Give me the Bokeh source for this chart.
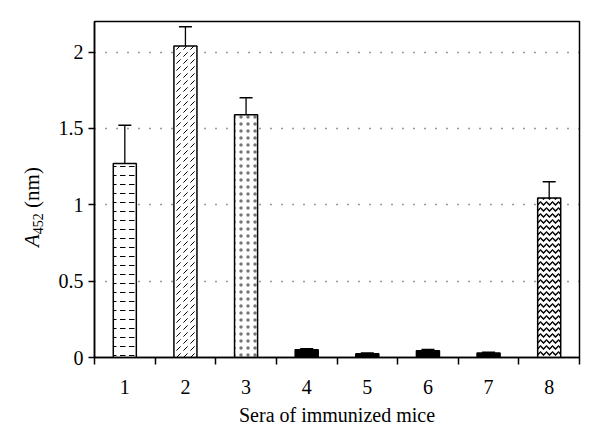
from bokeh.plotting import figure
from bokeh.layouts import row
from bokeh.models import (ColumnDataSource, Range1d, FixedTicker, NumeralTickFormatter,
                          Whisker, TeeHead, Div)
from bokeh.embed import file_html
from bokeh.resources import INLINE

# ---- data ----
categories = ["1", "2", "3", "4", "5", "6", "7", "8"]
absorbance = [1.27, 2.04, 1.59, 0.05, 0.025, 0.045, 0.03, 1.045]
error = [0.25, 0.125, 0.11, 0.008, 0.004, 0.008, 0.004, 0.105]
y_ticks = [0, 0.5, 1, 1.5, 2]

# ---- styles ----
fills = ["white", "white", "white", "black", "black", "black", "black", "white"]
hatches = ["horizontal_dash", "right_diagonal_dash", "dot", "blank", "blank", "blank", "blank", "horizontal_wave"]
hatch_scales = [9, 7, 7, 8, 8, 8, 8, 6]
hatch_weights = [1, 1, 0.3, 1, 1, 1, 1, 1.5]
hatch_colors = ["black", "black", "#777777", "black", "black", "black", "black", "black"]

FONT = "Liberation Serif"
LABEL_W = 40

xpos = list(range(1, len(categories) + 1))
src = ColumnDataSource(dict(
    x=xpos, top=absorbance,
    upper=[a + e for a, e in zip(absorbance, error)],
    lower=[a - e for a, e in zip(absorbance, error)],
    fill=fills, hatch=hatches, hscale=hatch_scales, hweight=hatch_weights, hcolor=hatch_colors,
))

p = figure(width=584 - LABEL_W, height=426, output_backend="svg", toolbar_location=None,
           x_range=Range1d(0.5, len(categories) + 0.5), y_range=Range1d(0, 2.2),
           min_border_left=86 - LABEL_W, min_border_right=13, min_border_top=13, min_border_bottom=77,
           margin=0)
p.background_fill_color = "white"
p.border_fill_color = "white"
p.outline_line_color = "black"
p.outline_line_width = 1.5

p.vbar(x="x", top="top", width=0.38, source=src, fill_color="fill",
       line_color="black", line_width=1.5,
       hatch_pattern="hatch", hatch_color="hcolor", hatch_scale="hscale", hatch_weight="hweight")

w = Whisker(base="x", upper="upper", lower="lower", source=src, line_color="black", line_width=1.3,
            upper_head=TeeHead(size=13, line_color="black", line_width=1.5),
            lower_head=TeeHead(size=13, line_color="black", line_width=1.5))
p.add_layout(w)

# x axis
p.xaxis.ticker = FixedTicker(ticks=xpos, minor_ticks=[x - 0.5 for x in xpos] + [xpos[-1] + 0.5])
p.xaxis.major_label_overrides = {x: c for x, c in zip(xpos, categories)}
p.xaxis.major_tick_out = 0
p.xaxis.major_tick_in = 0
p.xaxis.minor_tick_out = 7
p.xaxis.minor_tick_in = 0
p.xaxis.minor_tick_line_color = "black"
p.xaxis.minor_tick_line_width = 1.5
p.xaxis.axis_label = "Sera of immunized mice"
p.xaxis.major_label_standoff = 15
p.xaxis.axis_label_standoff = 7

# y axis
p.yaxis.ticker = FixedTicker(ticks=y_ticks, minor_ticks=[])
p.yaxis.formatter = NumeralTickFormatter(format="0.[0]")
p.yaxis.major_tick_out = 6
p.yaxis.major_tick_in = 0
p.yaxis.major_label_standoff = 5

for ax in (p.xaxis[0], p.yaxis[0]):
    ax.axis_line_color = "black"
    ax.axis_line_width = 1.5
    ax.major_tick_line_color = "black"
    ax.major_tick_line_width = 1.5
    ax.major_label_text_font = FONT
    ax.major_label_text_font_size = "20px"
    ax.major_label_text_color = "black"
    ax.axis_label_text_font = FONT
    ax.axis_label_text_font_size = "20px"
    ax.axis_label_text_font_style = "normal"
    ax.axis_label_text_color = "black"

p.xgrid.grid_line_color = None
p.ygrid.ticker = FixedTicker(ticks=y_ticks[1:])
p.ygrid.grid_line_color = "#333333"
p.ygrid.grid_line_width = 1.5
p.ygrid.grid_line_dash = "1 10"

# y axis label (italic A with subscript 452, then "(nm)") as rotated HTML text
ylabel = Div(width=LABEL_W, height=426, margin=0, text=(
    '<div style="position:absolute; left:14px; top:239px; transform:rotate(-90deg); '
    'transform-origin:left top; white-space:nowrap; font-family:\'Liberation Serif\'; '
    'font-size:21px; line-height:20px; color:black;">'
    '<i>A</i><span style="font-size:14px; position:relative; top:4px;">452</span> (nm)</div>'
), styles={"background-color": "white"})

layout = row(ylabel, p, spacing=0, margin=(8, 0, 0, 8))
open("out.html", "w").write(file_html(layout, INLINE))
